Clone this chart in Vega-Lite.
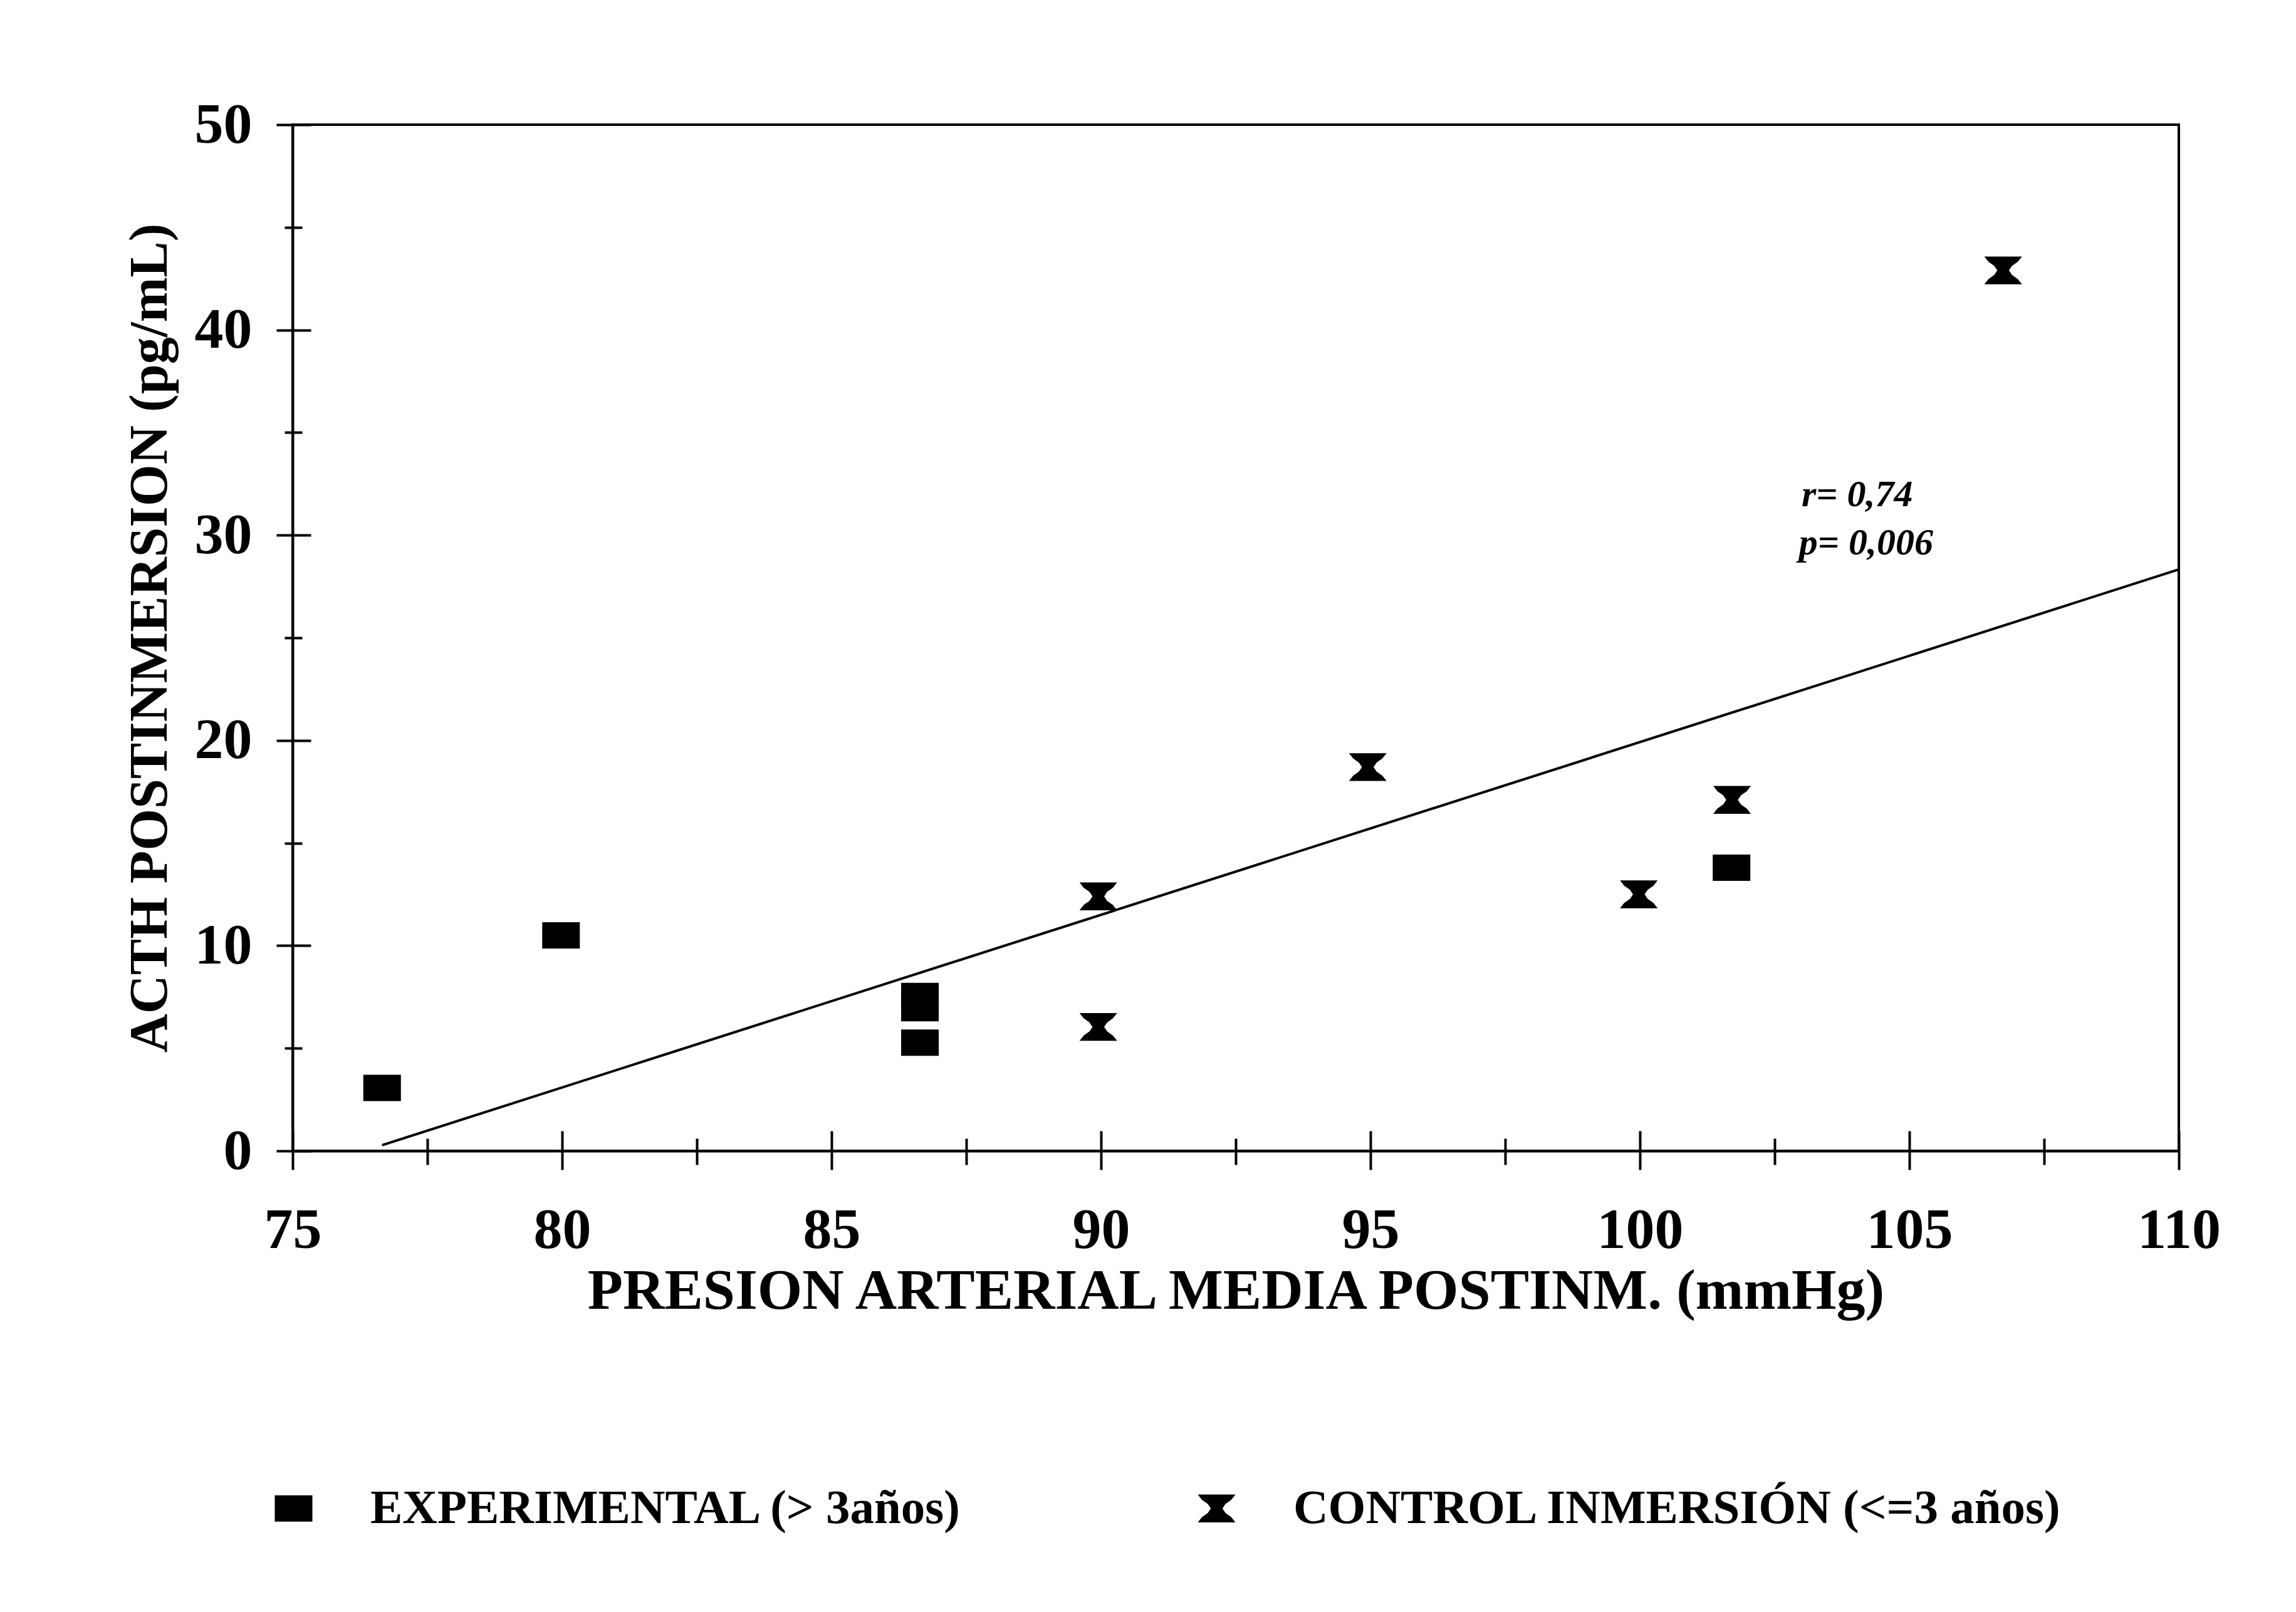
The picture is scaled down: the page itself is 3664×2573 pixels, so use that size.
{
  "$schema": "https://vega.github.io/schema/vega-lite/v6.json",
  "width": 3010,
  "height": 1638,
  "autosize": {"type": "none"},
  "padding": {"left": 467, "top": 199, "right": 187, "bottom": 736},
  "background": "white",
  "config": {
    "view": {"stroke": "black", "strokeWidth": 4},
    "font": "Liberation Serif",
    "axis": {
      "domainColor": "black", "domainWidth": 4,
      "tickColor": "black", "tickWidth": 4,
      "grid": false,
      "labelFont": "Liberation Serif", "labelFontWeight": "bold", "labelFontSize": 92, "labelColor": "black", "labelLimit": 1000,
      "titleFont": "Liberation Serif", "titleFontWeight": "bold", "titleColor": "black",
      "labelFlush": false, "labelOverlap": false
    }
  },
  "resolve": {"axis": {"x": "independent", "y": "independent"}},
  "datasets": {
    "points": [
      {"grupo": "EXPERIMENTAL (> 3años)", "pam": 76.66, "acth": 3.07},
      {"grupo": "EXPERIMENTAL (> 3años)", "pam": 79.98, "acth": 10.5},
      {"grupo": "EXPERIMENTAL (> 3años)", "pam": 86.64, "acth": 7.55},
      {"grupo": "EXPERIMENTAL (> 3años)", "pam": 86.64, "acth": 6.95},
      {"grupo": "EXPERIMENTAL (> 3años)", "pam": 86.64, "acth": 5.27},
      {"grupo": "EXPERIMENTAL (> 3años)", "pam": 101.7, "acth": 13.8},
      {"grupo": "CONTROL INMERSIÓN (<=3 años)", "pam": 89.95, "acth": 12.4},
      {"grupo": "CONTROL INMERSIÓN (<=3 años)", "pam": 89.95, "acth": 6.04},
      {"grupo": "CONTROL INMERSIÓN (<=3 años)", "pam": 94.95, "acth": 18.7},
      {"grupo": "CONTROL INMERSIÓN (<=3 años)", "pam": 99.98, "acth": 12.5},
      {"grupo": "CONTROL INMERSIÓN (<=3 años)", "pam": 101.71, "acth": 17.1},
      {"grupo": "CONTROL INMERSIÓN (<=3 años)", "pam": 106.74, "acth": 42.9}
    ],
    "fit": [
      {"pam": 76.66, "acth": 0.28},
      {"pam": 110, "acth": 28.33}
    ]
  },
  "layer": [
    {
      "data": {"name": "fit"},
      "mark": {"type": "line", "color": "black", "strokeWidth": 4},
      "encoding": {
        "x": {
          "field": "pam", "type": "quantitative",
          "scale": {"domain": [75, 110], "nice": false, "zero": false},
          "axis": {
            "orient": "bottom",
            "title": "PRESION ARTERIAL MEDIA POSTINM. (mmHg)",
            "titleFontSize": 92,
            "titlePadding": 6,
            "tickSize": {"condition": {"test": "datum.value % 5 === 0", "value": 30}, "value": 22},
            "labelPadding": 51,
            "values": [75, 77.5, 80, 82.5, 85, 87.5, 90, 92.5, 95, 97.5, 100, 102.5, 105, 107.5, 110],
            "labelExpr": "datum.value % 5 === 0 ? format(datum.value, 'd') : ''"
          }
        },
        "y": {
          "field": "acth", "type": "quantitative",
          "scale": {"domain": [0, 50], "nice": false},
          "axis": {
            "orient": "left",
            "title": "ACTH POSTINMERSION (pg/mL)",
            "titleFontSize": 86,
            "titlePadding": 27,
            "tickSize": {"condition": {"test": "datum.value % 10 === 0", "value": 26}, "value": 13},
            "labelPadding": 39,
            "values": [0, 5, 10, 15, 20, 25, 30, 35, 40, 45, 50],
            "labelExpr": "datum.value % 10 === 0 ? format(datum.value, 'd') : ''"
          }
        }
      }
    },
    {
      "data": {"name": "points"},
      "mark": {"type": "point", "filled": true, "color": "black", "opacity": 1, "size": 3600, "strokeWidth": 0},
      "encoding": {
        "x": {
          "field": "pam", "type": "quantitative",
          "axis": {
            "orient": "bottom", "title": null, "labels": false, "domain": false,
            "values": [75, 77.5, 80, 82.5, 85, 87.5, 90, 92.5, 95, 97.5, 100, 102.5, 105, 107.5, 110],
            "tickSize": {"condition": {"test": "datum.value % 5 === 0", "value": -32}, "value": -20}
          }
        },
        "y": {
          "field": "acth", "type": "quantitative",
          "axis": {
            "orient": "left", "title": null, "labels": false, "domain": false,
            "values": [0, 5, 10, 15, 20, 25, 30, 35, 40, 45, 50],
            "tickSize": {"condition": {"test": "datum.value % 10 === 0", "value": -29}, "value": -15}
          }
        },
        "shape": {
          "field": "grupo", "type": "nominal",
          "scale": {
            "domain": ["EXPERIMENTAL (> 3años)", "CONTROL INMERSIÓN (<=3 años)"],
            "range": [
              "M-1,-0.7L1,-0.7L1,0.7L-1,0.7Z",
              "M-1,-0.74L1,-0.74L0.78,-0.46L0.47,-0.24L0.31,0L0.47,0.24L0.78,0.46L1,0.74L-1,0.74L-0.78,0.46L-0.47,0.24L-0.31,0L-0.47,-0.24L-0.78,-0.46Z"
            ]
          },
          "legend": {
            "title": null,
            "orient": "none",
            "direction": "horizontal",
            "legendX": -37,
            "legendY": 2170,
            "labelFont": "Liberation Serif",
            "labelFontWeight": "bold",
            "labelFontSize": 77,
            "labelColor": "black",
            "labelLimit": 3000,
            "labelOffset": 84,
            "columnPadding": 366,
            "symbolSize": 3600,
            "symbolFillColor": "black",
            "symbolStrokeWidth": 0,
            "symbolOpacity": 1
          }
        }
      }
    },
    {
      "data": {"values": [{}]},
      "mark": {"type": "text", "font": "Liberation Serif", "fontWeight": "bold", "fontStyle": "italic", "fontSize": 60, "align": "left", "baseline": "alphabetic", "color": "black"},
      "encoding": {
        "x": {"datum": 103, "type": "quantitative", "axis": null},
        "y": {"datum": 31.4, "type": "quantitative", "axis": null},
        "text": {"value": "r= 0,74"}
      }
    },
    {
      "data": {"values": [{}]},
      "mark": {"type": "text", "font": "Liberation Serif", "fontWeight": "bold", "fontStyle": "italic", "fontSize": 60, "align": "left", "baseline": "alphabetic", "color": "black"},
      "encoding": {
        "x": {"datum": 102.95, "type": "quantitative", "axis": null},
        "y": {"datum": 29.05, "type": "quantitative", "axis": null},
        "text": {"value": "p= 0,006"}
      }
    }
  ]
}
